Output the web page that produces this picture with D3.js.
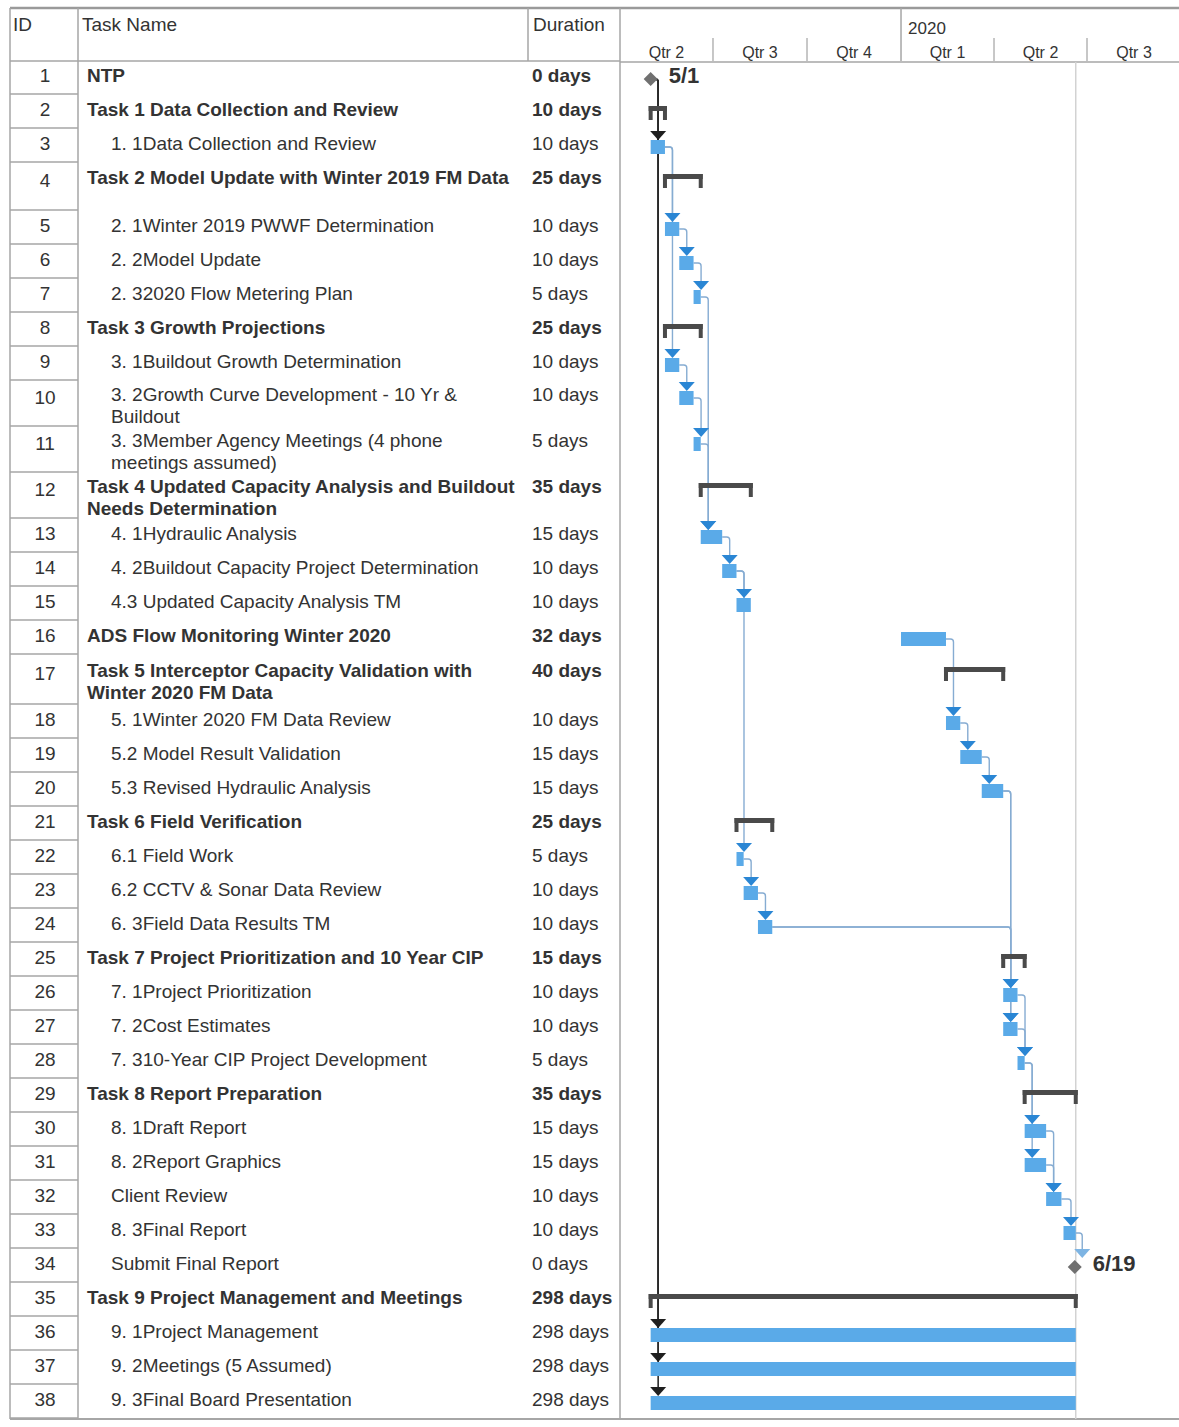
<!DOCTYPE html>
<html>
<head>
<meta charset="utf-8">
<script src="https://cdn.jsdelivr.net/npm/d3@7"></script>
<style>
  body { margin: 0; background: #fff; }
  svg text { font-family: "Liberation Sans", Arial, sans-serif; fill: #333; }
</style>
</head>
<body>
<svg id="chart" width="1179" height="1427"></svg>
<script>
// ---- Schedule data -------------------------------------------------------
const taskNames = [
  "NTP",
  "Task 1 Data Collection and Review",
  "1. 1Data Collection and Review",
  "Task 2 Model Update with Winter 2019 FM Data",
  "2. 1Winter 2019 PWWF Determination",
  "2. 2Model Update",
  "2. 32020 Flow Metering Plan",
  "Task 3 Growth Projections",
  "3. 1Buildout Growth Determination",
  "3. 2Growth Curve Development - 10 Yr &\nBuildout",
  "3. 3Member Agency Meetings (4 phone\nmeetings assumed)",
  "Task 4 Updated Capacity Analysis and Buildout\nNeeds Determination",
  "4. 1Hydraulic Analysis",
  "4. 2Buildout Capacity Project Determination",
  "4.3 Updated Capacity Analysis TM",
  "ADS Flow Monitoring Winter 2020",
  "Task 5 Interceptor Capacity Validation with\nWinter 2020 FM Data",
  "5. 1Winter 2020 FM Data Review",
  "5.2 Model Result Validation",
  "5.3 Revised Hydraulic Analysis",
  "Task 6 Field Verification",
  "6.1 Field Work",
  "6.2 CCTV & Sonar Data Review",
  "6. 3Field Data Results TM",
  "Task 7 Project Prioritization and 10 Year CIP",
  "7. 1Project Prioritization",
  "7. 2Cost Estimates",
  "7. 310-Year CIP Project Development",
  "Task 8 Report Preparation",
  "8. 1Draft Report",
  "8. 2Report Graphics",
  "Client Review",
  "8. 3Final Report",
  "Submit Final Report",
  "Task 9 Project Management and Meetings",
  "9. 1Project Management",
  "9. 2Meetings (5 Assumed)",
  "9. 3Final Board Presentation"
];

// outline level: 0 = top level, 1 = sub-task
const outlineLevel = [0,0,1,0,1,1,1,0,1,1,1,0,1,1,1,0,0,1,1,1,0,1,1,1,0,1,1,1,0,1,1,1,1,1,0,1,1,1];

const taskType = [
  "milestone","summary","task","summary","task","task","task","summary","task","task",
  "task","summary","task","task","task","task","summary","task","task","task",
  "summary","task","task","task","summary","task","task","task","summary","task",
  "task","task","task","milestone","summary","task","task","task"
];

const durationDays = [0,10,10,25,10,10,5,25,10,10,5,35,15,10,10,32,40,10,15,15,25,5,10,10,15,10,10,5,35,15,15,10,10,0,298,298,298,298];

const startDates = [
  "2019-05-01","2019-05-01","2019-05-01","2019-05-15","2019-05-15","2019-05-29","2019-06-12",
  "2019-05-15","2019-05-15","2019-05-29","2019-06-12","2019-06-19","2019-06-19","2019-07-10",
  "2019-07-24","2020-01-01","2020-02-14","2020-02-14","2020-02-28","2020-03-20","2019-07-24",
  "2019-07-24","2019-07-31","2019-08-14","2020-04-10","2020-04-10","2020-04-10","2020-04-24",
  "2020-05-01","2020-05-01","2020-05-01","2020-05-22","2020-06-08","2020-06-19","2019-05-01",
  "2019-05-01","2019-05-01","2019-05-01"
];

const finishDates = [
  "2019-05-01","2019-05-14","2019-05-14","2019-06-18","2019-05-28","2019-06-11","2019-06-18",
  "2019-06-18","2019-05-28","2019-06-11","2019-06-18","2019-08-06","2019-07-09","2019-07-23",
  "2019-08-06","2020-02-13","2020-04-09","2020-02-27","2020-03-19","2020-04-09","2019-08-27",
  "2019-07-30","2019-08-13","2019-08-27","2020-04-30","2020-04-23","2020-04-23","2020-04-30",
  "2020-06-19","2020-05-21","2020-05-21","2020-06-05","2020-06-19","2020-06-19","2020-06-19",
  "2020-06-19","2020-06-19","2020-06-19"
];

// number of text lines each row is sized for
const rowLines = [1,1,1,2,1,1,1,1,1,2,2,2,1,1,1,1,2,1,1,1,1,1,1,1,1,1,1,1,1,1,1,1,1,1,1,1,1,1];

// finish-to-start dependencies, by task ID
const links = [
  [1,3],[1,36],[1,37],[1,38],
  [3,5],[3,9],[5,6],[6,7],[9,10],[10,11],
  [7,13],[11,13],[13,14],[14,15],[14,22],[22,23],[23,24],
  [16,18],[18,19],[19,20],
  [20,26],[20,27],[24,26],[24,27],[26,28],[27,28],
  [28,30],[28,31],[30,32],[31,32],[32,33],[33,34]
];

const columnHeaders = ["ID", "Task Name", "Duration"];

// ---- Layout ---------------------------------------------------------------
const svg = d3.select("#chart");
const parse = d3.timeParse("%Y-%m-%d");
const fmtMilestone = d3.timeFormat("%-m/%-d");

const tasks = taskNames.map((name, i) => ({
  id: i + 1,
  lines: name.split("\n"),
  level: outlineLevel[i],
  type: taskType[i],
  dur: durationDays[i],
  start: parse(startDates[i]),
  finish: parse(finishDates[i]),
  span: rowLines[i]
}));

const tableLeft = 10, idRight = 78, nameRight = 528, gridLeft = 620, pageRight = 1179;
const tableTop = 8, headerBottom = 61;
const lineH = 34, lineH2 = 46;

// row geometry
let yCursor = headerBottom - 1;
tasks.forEach(t => {
  const h = t.span === 1 ? lineH : (t.id === 17 ? 50 : (t.id === 4 ? 48 : lineH2));
  t.top = yCursor;
  t.h = h;
  const c = yCursor + h / 2;
  t.textY = t.span === 1 ? c - 2 : c - 9;   // centre of first text line
  yCursor += h;
});
const tableBottom = yCursor + 1;

// time scale: one quarter ~ 93px
const x = d3.scaleTime()
  .domain([new Date(2019, 3, 1), new Date(2020, 6, 1)])
  .range([620, 1087]);
const endOf = d => x(d3.timeDay.offset(d, 1));

// ---- Table grid -----------------------------------------------------------
const grid = svg.append("g").attr("stroke", "#a6a6a6").attr("stroke-width", 1.5);
grid.append("line").attr("x1", tableLeft).attr("x2", pageRight).attr("y1", tableTop).attr("y2", tableTop).attr("stroke-width", 2.5).attr("stroke", "#9a9a9a");
grid.append("line").attr("x1", tableLeft).attr("x2", pageRight).attr("y1", tableBottom).attr("y2", tableBottom).attr("stroke-width", 2);
grid.append("line").attr("x1", tableLeft).attr("x2", tableLeft).attr("y1", tableTop).attr("y2", tableBottom);
grid.append("line").attr("x1", idRight).attr("x2", idRight).attr("y1", tableTop).attr("y2", tableBottom);
grid.append("line").attr("x1", nameRight).attr("x2", nameRight).attr("y1", tableTop).attr("y2", headerBottom);
grid.append("line").attr("x1", gridLeft).attr("x2", gridLeft).attr("y1", tableTop).attr("y2", tableBottom);
grid.append("line").attr("x1", tableLeft).attr("x2", gridLeft).attr("y1", headerBottom).attr("y2", headerBottom);
grid.append("line").attr("x1", gridLeft).attr("x2", pageRight).attr("y1", headerBottom + 1).attr("y2", headerBottom + 1);
grid.selectAll("line.rowsep").data(tasks).join("line")
  .attr("class", "rowsep")
  .attr("x1", tableLeft).attr("x2", idRight)
  .attr("y1", d => d.top + d.h).attr("y2", d => d.top + d.h);

// column headers
const headX = [13, 82, 533];
svg.append("g").selectAll("text").data(columnHeaders).join("text")
  .attr("x", (d, i) => headX[i]).attr("y", 31)
  .attr("font-size", 19)
  .text(d => d);

// ---- Timescale header -----------------------------------------------------
const quarterStarts = d3.timeMonth.every(3).range(new Date(2019, 3, 1), new Date(2020, 9, 1));
const tscale = svg.append("g");
quarterStarts.forEach((q, i) => {
  const next = d3.timeMonth.offset(q, 3);
  const cx = (x(q) + x(next)) / 2;
  tscale.append("text")
    .attr("x", cx).attr("y", 58)
    .attr("text-anchor", "middle")
    .attr("font-size", 16)
    .text("Qtr " + (Math.floor(q.getMonth() / 3) + 1));
  if (i === 0) return;
  if (q.getMonth() === 0) {
    tscale.append("line")
      .attr("x1", x(q)).attr("x2", x(q)).attr("y1", tableTop).attr("y2", headerBottom)
      .attr("stroke", "#a6a6a6").attr("stroke-width", 1.5);
    tscale.append("text")
      .attr("x", x(q) + 7).attr("y", 34)
      .attr("font-size", 17)
      .text(d3.timeFormat("%Y")(q));
  } else {
    tscale.append("line")
      .attr("x1", x(q)).attr("x2", x(q)).attr("y1", 38).attr("y2", headerBottom)
      .attr("stroke", "#b5b5b5").attr("stroke-width", 1.5);
  }
});

// project finish marker line
const projectFinish = d3.max(tasks, d => d.finish);
svg.append("line")
  .attr("x1", x(projectFinish) + 1).attr("x2", x(projectFinish) + 1)
  .attr("y1", headerBottom + 1).attr("y2", tableBottom)
  .attr("stroke", "#d2d2d2").attr("stroke-width", 1.5);

// ---- Table text -----------------------------------------------------------
const rows = svg.append("g").selectAll("g").data(tasks).join("g");

rows.append("text")
  .attr("x", 45).attr("y", d => d.textY + 7 + (d.span > 1 ? 3 : 0))
  .attr("text-anchor", "middle")
  .attr("font-size", 19)
  .text(d => d.id);

rows.append("text")
  .attr("x", d => d.level === 0 ? 87 : 111)
  .attr("y", d => d.textY + 7)
  .attr("font-size", 19)
  .attr("font-weight", d => d.level === 0 ? "bold" : "normal")
  .selectAll("tspan").data(d => d.lines).join("tspan")
  .attr("x", function () { return d3.select(this.parentNode).attr("x"); })
  .attr("dy", (d, i) => i === 0 ? 0 : 22)
  .text(d => d);

rows.append("text")
  .attr("x", 532).attr("y", d => d.textY + 7)
  .attr("font-size", 19)
  .attr("font-weight", d => d.level === 0 ? "bold" : "normal")
  .text(d => d.dur + " days");

// ---- Gantt geometry helpers ----------------------------------------------
const byId = new Map(tasks.map(t => [t.id, t]));
tasks.forEach(t => {
  t.barTop = t.textY - 3;
  if (t.type === "milestone") {
    t.mx = x(t.start);
    t.my = t.textY + 4;
  }
});

// ---- Dependency links -----------------------------------------------------
const linkLayer = svg.append("g").attr("fill", "none");
const barLayer = svg.append("g");
const arrowLayer = svg.append("g");
links.forEach(([a, b]) => {
  const p = byId.get(a), s = byId.get(b);
  const dark = p.type === "milestone";
  let px, py;
  if (p.type === "milestone") { px = p.mx; py = p.my; }
  else { px = endOf(p.finish); py = p.barTop + 7; }
  const ax = (s.type === "milestone" ? s.mx : x(s.start)) + 7.5;
  const tipY = s.type === "milestone" ? s.my - 9 : s.barTop;
  const r = Math.min(3, Math.max(0, ax - px));
  const path = d3.path();
  path.moveTo(px, py);
  path.lineTo(ax - r, py);
  if (r > 0) path.quadraticCurveTo(ax, py, ax, py + r);
  path.lineTo(ax, tipY - 7);
  linkLayer.append("path")
    .attr("d", path.toString())
    .attr("stroke", dark ? "#2a2a2a" : "#86acd2")
    .attr("stroke-width", dark ? 1.6 : 1.4);
  arrowLayer.append("path")
    .attr("d", `M${ax - 8},${tipY - 9}L${ax + 8},${tipY - 9}L${ax},${tipY}Z`)
    .attr("fill", dark ? "#1f1f1f" : (s.type === "milestone" ? "#7db4e3" : "#2a86d4"));
});

// ---- Bars, summaries and milestones ---------------------------------------
tasks.filter(t => t.type === "task").forEach(t => {
  barLayer.append("rect")
    .attr("x", x(t.start)).attr("y", t.barTop)
    .attr("width", endOf(t.finish) - x(t.start)).attr("height", 14)
    .attr("fill", "#5aaae8");
});

tasks.filter(t => t.type === "summary").forEach(t => {
  const x0 = x(t.start) - 2, x1 = endOf(t.finish) + 2;
  const g = barLayer.append("g").attr("fill", "#4a4a4a");
  g.append("rect").attr("x", x0).attr("y", t.barTop).attr("width", x1 - x0).attr("height", 5);
  g.append("rect").attr("x", x0).attr("y", t.barTop).attr("width", 4).attr("height", 14);
  g.append("rect").attr("x", x1 - 4).attr("y", t.barTop).attr("width", 4).attr("height", 14);
});

tasks.filter(t => t.type === "milestone").forEach(t => {
  barLayer.append("path")
    .attr("d", `M${t.mx},${t.my - 7}L${t.mx + 7},${t.my}L${t.mx},${t.my + 7}L${t.mx - 7},${t.my}Z`)
    .attr("fill", "#707070");
  barLayer.append("text")
    .attr("x", t.mx + 18).attr("y", t.my + 4)
    .attr("font-size", 22).attr("font-weight", "bold")
    .text(fmtMilestone(t.start));
});
</script>
</body>
</html>
